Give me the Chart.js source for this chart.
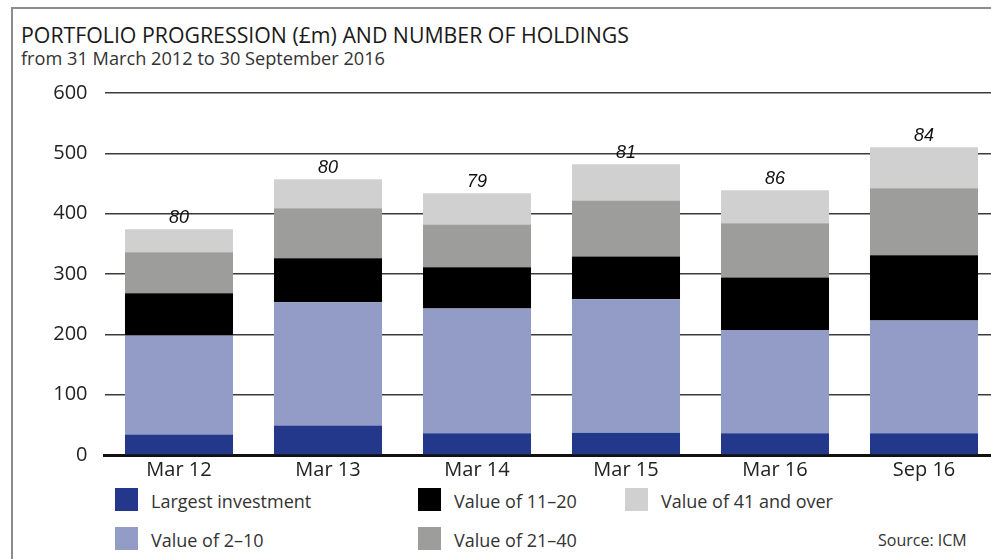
<!DOCTYPE html>
<html>
<head>
<meta charset="utf-8">
<script src="https://cdn.jsdelivr.net/npm/chart.js@4.4.0/dist/chart.umd.min.js"></script>
<style>
  html, body { margin: 0; padding: 0; background: #fff; overflow: hidden; }
  body { width: 991px; height: 559px; position: relative; font-family: "Open Sans", sans-serif; color: #1a1a1a; }
  .frame { position: absolute; left: 11px; top: 7px; width: 1100px; height: 700px;
           border-left: 2.5px solid #8a8c8e; border-top: 2.5px solid #8a8c8e; }
  .txt { position: absolute; line-height: 1; white-space: nowrap; }
  #title { left: 21px; top: 23.5px; font-size: 21.3px; }
  #subtitle { left: 21px; top: 49px; font-size: 18.2px; color: #333; }
  #wrap { position: absolute; left: 0; top: 64px; width: 1000px; height: 420px; }
  .sw { position: absolute; width: 23px; height: 23px; }
  .lg { position: absolute; font-size: 18px; line-height: 1; color: #333; white-space: nowrap; }
  #source { left: 878px; top: 532px; font-size: 16px; color: #333; }
</style>
</head>
<body>
<div class="frame"></div>
<div class="txt" id="title">PORTFOLIO PROGRESSION (£m) AND NUMBER OF HOLDINGS</div>
<div class="txt" id="subtitle">from 31 March 2012 to 30 September 2016</div>
<div id="wrap"><canvas id="portfolio-chart"></canvas></div>
<div id="legend"></div>
<div class="txt" id="source">Source: ICM</div>
<script>
var periods = ['Mar 12', 'Mar 13', 'Mar 14', 'Mar 15', 'Mar 16', 'Sep 16'];
var largest = [34, 49, 36, 37, 36, 36];
var value2to10 = [164, 204, 207, 221, 171, 187];
var value11to20 = [70, 73, 68, 71, 87, 108];
var value21to40 = [68, 83, 71, 93, 90, 111];
var value41over = [38, 48, 52, 60, 55, 68];
var holdings = [80, 80, 79, 81, 86, 84];
var yTicks = [0, 100, 200, 300, 400, 500, 600];

var seriesNames = ['Largest investment', 'Value of 2\u201310', 'Value of 11\u201320', 'Value of 21\u201340', 'Value of 41 and over'];
var seriesColours = ['#23388a', '#929cc6', '#000000', '#9d9d9c', '#d0d0d0'];
var seriesData = [largest, value2to10, value11to20, value21to40, value41over];

// legend is laid out column by column, as in the original
var legendSpots = [[115, 488], [115, 527], [418, 488], [418, 527], [625, 488]];

var legendBox = document.getElementById('legend');
seriesNames.forEach(function(name, i) {
  var sw = document.createElement('div');
  sw.className = 'sw';
  sw.style.left = legendSpots[i][0] + 'px';
  sw.style.top = legendSpots[i][1] + 'px';
  sw.style.background = seriesColours[i];
  legendBox.appendChild(sw);
  var lg = document.createElement('div');
  lg.className = 'lg';
  lg.style.left = (legendSpots[i][0] + 36) + 'px';
  lg.style.top = (legendSpots[i][1] + 3.5) + 'px';
  lg.textContent = name;
  legendBox.appendChild(lg);
});

var holdingLabels = {
  id: 'holdingLabels',
  afterDatasetsDraw: function(chart) {
    var ctx = chart.ctx;
    var meta = chart.getDatasetMeta(chart.data.datasets.length - 1);
    ctx.save();
    ctx.font = 'italic 18px "Liberation Sans", Arial, sans-serif';
    ctx.fillStyle = '#111';
    ctx.textAlign = 'center';
    ctx.textBaseline = 'alphabetic';
    meta.data.forEach(function(bar, i) {
      ctx.fillText(String(holdings[i]), bar.x, bar.y - 6);
    });
    ctx.restore();
  }
};

var portfolio = {
  type: 'bar',
  data: {
    labels: periods,
    datasets: seriesNames.map(function(name, i) {
      return {
        label: name,
        data: seriesData[i],
        backgroundColor: seriesColours[i],
        borderWidth: 0,
        categoryPercentage: 1,
        barPercentage: 0.725
      };
    })
  },
  options: {
    responsive: true,
    maintainAspectRatio: false,
    animation: false,
    layout: { padding: { top: 12, right: 1.5, left: 0, bottom: 0 } },
    plugins: {
      legend: { display: false },
      title: { display: false },
      tooltip: { enabled: false }
    },
    scales: {
      x: {
        stacked: true,
        grid: { display: false, drawTicks: false },
        border: { display: true, color: '#111', width: 3 },
        ticks: {
          color: '#222',
          padding: 3,
          font: { family: '"Open Sans"', size: 20 }
        },
        afterFit: function(scale) { scale.height = 26.5; }
      },
      y: {
        stacked: true,
        min: 0,
        max: 600,
        afterBuildTicks: function(scale) {
          scale.ticks = yTicks.map(function(v) { return { value: v }; });
        },
        grid: { color: '#3c3c3c', lineWidth: 1.5, drawTicks: false },
        border: { display: false },
        ticks: {
          color: '#222',
          padding: 17,
          font: { family: '"Open Sans"', size: 20 }
        },
        afterFit: function(scale) { scale.width = 104.5; }
      }
    }
  },
  plugins: [holdingLabels]
};

window.onload = function() {
  var ctx = document.getElementById('portfolio-chart').getContext('2d');
  window.portfolioChart = new Chart(ctx, portfolio);
};
</script>
</body>
</html>
